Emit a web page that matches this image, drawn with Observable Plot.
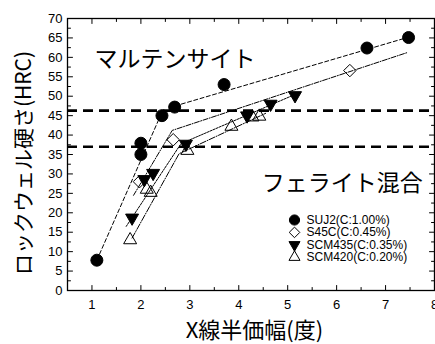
<!DOCTYPE html>
<html>
<head>
<meta charset="utf-8">
<script src="https://cdn.jsdelivr.net/npm/d3@7"></script>
<script src="https://cdn.jsdelivr.net/npm/@observablehq/plot@0.6"></script>
<style>
  body { margin: 0; background: #fff; }
</style>
</head>
<body>
<div id="chart"></div>
<script>
// Measured hardness (HRC) against X-ray diffraction half-width (degrees)
const suj2   = [[1.1, 7.8], [2.0, 35.0], [2.0, 37.9], [2.43, 45.0], [2.69, 47.2], [3.7, 53.0], [6.62, 62.4], [7.47, 65.1]];
const s45c   = [[1.97, 28.0], [2.66, 38.8], [6.27, 56.6]];
const scm435 = [[1.82, 18.7], [2.07, 28.6], [2.25, 30.2], [2.92, 37.7], [4.17, 45.0], [4.65, 48.0], [5.15, 50.2]];
const scm420 = [[1.78, 13.0], [2.12, 26.0], [2.2, 25.2], [2.95, 36.0], [3.85, 42.2], [4.28, 44.6], [4.42, 44.8]];

// Two-segment trend lines for each steel
const fitSUJ2   = [[1.1, 7.8], [2.4, 45.0], [2.7, 47.5], [7.47, 65.2]];
const fitS45C   = [[1.85, 24.5], [2.64, 41.2], [7.46, 61.3]];
const fitSCM435 = [[1.7, 16.5], [2.82, 37.8], [5.25, 51.0]];
const fitSCM420 = [[1.82, 13.5], [2.78, 35.2], [4.55, 45.6]];

// Hardness thresholds separating martensite / ferrite-mixed structures
const boundaries = [46.3, 37.0];

const regionLabels = [
  {text: "マルテンサイト", x: 1.05, y: 59.4},
  {text: "フェライト混合", x: 4.47, y: 27.4}
];

const legendLabels = ["SUJ2(C:1.00%)", "S45C(C:0.45%)", "SCM435(C:0.35%)", "SCM420(C:0.20%)"];

const xTickValues = [1, 2, 3, 4, 5, 6, 7, 8];
const xMinorValues = [1.5, 2.5, 3.5, 4.5, 5.5, 6.5, 7.5];
const yTickValues = [0, 5, 10, 15, 20, 25, 30, 35, 40, 45, 50, 55, 60, 65, 70];
const yMinorValues = yTickValues.slice(0, -1).map(v => v + 2.5);

const xTitle = "X線半価幅(度)";
const yTitle = "ロックウェル硬さ(HRC)";

// marker styles for each series
const styles = [
  {symbol: "circle", fill: "black", r: 6},
  {symbol: "diamond2", fill: "none", r: 5.6},
  {symbol: "triangle2", fill: "black", r: 6.2, rotate: 180},
  {symbol: "triangle2", fill: "none", r: 6.2}
];
const dashes = ["4,2.5", "5,1.5,1,1.5", "2,1.2", "6,1.5,1,1.5"];

// inward tick: a straight stroke of length l from the anchor point
const tickShape = {draw(context, l) { context.moveTo(0, 0); context.lineTo(0, -l); }};

function frameTicks(values, len, k) {
  const common = {anchor: "start", length: len, shape: tickShape, stroke: "black", strokeWidth: 1};
  if (k === "x") return [
    Plot.vector(values, {x: d => d, frameAnchor: "bottom", rotate: 0, ...common}),
    Plot.vector(values, {x: d => d, frameAnchor: "top", rotate: 180, ...common})
  ];
  return [
    Plot.vector(values, {y: d => d, frameAnchor: "left", rotate: 90, ...common}),
    Plot.vector(values, {y: d => d, frameAnchor: "right", rotate: -90, ...common})
  ];
}

const series = [suj2, s45c, scm435, scm420];
const fits = [fitSUJ2, fitS45C, fitSCM435, fitSCM420];

const legendMarks = legendLabels.flatMap((label, i) => [
  Plot.dot([label], {x: null, y: null, frameAnchor: "bottom-right", dx: -140, dy: -70.5 + 12.4 * i,
    stroke: "black", strokeWidth: 1, ...styles[i], r: styles[i].r * 0.85}),
  Plot.text([label], {x: null, y: null, text: d => d, frameAnchor: "bottom-right", dx: -128, dy: -70.5 + 12.4 * i,
    textAnchor: "start", lineAnchor: "middle", fontSize: 12})
]);

const cjk = "'Noto Sans CJK JP', sans-serif";

const chart = Plot.plot({
  width: 435,
  height: 344,
  marginLeft: 67,
  marginRight: 1,
  marginTop: 18,
  marginBottom: 54,
  style: {fontFamily: "'Liberation Sans', Arial, sans-serif", fontSize: "13px", background: "white"},
  x: {domain: [0.5, 8], axis: null},
  y: {domain: [0, 70], axis: null},
  marks: [
    Plot.ruleY(boundaries, {y: d => d, stroke: "black", strokeWidth: 2.6, strokeDasharray: "10,6"}),
    ...fits.map((f, i) => Plot.line(f, {stroke: "black", strokeWidth: 1, strokeDasharray: dashes[i]})),
    ...series.map((s, i) => Plot.dot(s, {stroke: "black", strokeWidth: 1, ...styles[i]})),
    Plot.text(regionLabels, {x: "x", y: "y", text: "text", textAnchor: "start", fontSize: 23, fontFamily: cjk}),
    ...legendMarks,
    Plot.frame({stroke: "black", strokeWidth: 1.3}),
    ...frameTicks(xTickValues, 5, "x"),
    ...frameTicks(xMinorValues, 3, "x"),
    ...frameTicks(yTickValues, 5, "y"),
    ...frameTicks(yMinorValues, 3, "y"),
    Plot.axisX({ticks: xTickValues, tickSize: 0, tickPadding: 9, label: null, fontSize: 13}),
    Plot.axisY({ticks: yTickValues, tickSize: 0, tickPadding: 5, label: null, fontSize: 13}),
    Plot.text([xTitle], {x: null, y: null, text: d => d, frameAnchor: "bottom", dx: 3.5, dy: 40,
      textAnchor: "middle", lineAnchor: "middle", fontSize: 22, fontFamily: cjk}),
    Plot.text([yTitle], {x: null, y: null, text: d => d, frameAnchor: "left", dx: -43, dy: 8.5,
      rotate: -90, textAnchor: "middle", lineAnchor: "middle", fontSize: 21, fontFamily: cjk})
  ]
});

document.getElementById("chart").appendChild(chart);
</script>
</body>
</html>
